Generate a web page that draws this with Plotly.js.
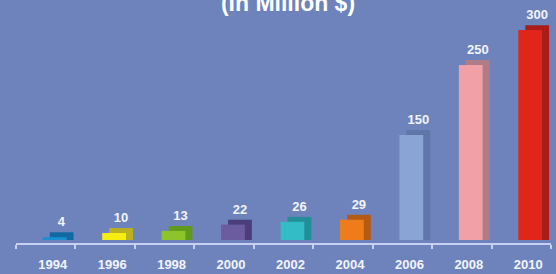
<!DOCTYPE html>
<html>
<head>
<meta charset="utf-8">
<script src="https://cdn.plot.ly/plotly-3.0.1.min.js"></script>
<style>
  html, body { margin: 0; padding: 0; background: #6e83bc; }
  #chart { width: 556px; height: 274px; }
</style>
</head>
<body>
<div id="chart"></div>
<script>
// ---- data ----
var years = ['1994', '1996', '1998', '2000', '2002', '2004', '2006', '2008', '2010'];
var values = [4, 10, 13, 22, 26, 29, 150, 250, 300];
var frontColors = ['#1a8fd2', '#f6ee12', '#8cc42a', '#6a5c9e', '#34bcc6', '#ee7c1a', '#8aa4d6', '#f2a0a8', '#e0251a'];
var sideColors  = ['#0f6aa2', '#b9b022', '#5f9a1c', '#4a3e7c', '#228e98', '#b45a12', '#5f77a8', '#b07c88', '#a81c1a'];
var titleText = '(In Million $)';

// ---- style constants ----
var depth = 7;            // extrusion depth, in y-units (style only)
var labelColor = '#f2f4fb';
var axisColor = '#c9cff0';

var shadowHeights = values.map(function (v) { return v + depth; });

var side = {
  type: 'bar',
  x: years,
  y: shadowHeights,
  width: 0.4,
  offset: 0.068,
  marker: { color: sideColors, line: { width: 0 } },
  text: values.map(String),
  textposition: 'outside',
  textfont: { family: 'Liberation Sans, Arial, sans-serif', size: 13, color: labelColor, weight: 'bold' },
  cliponaxis: false,
  hoverinfo: 'skip',
  showlegend: false
};

var front = {
  type: 'bar',
  x: years,
  y: values,
  width: 0.4,
  offset: -0.05,
  marker: { color: frontColors, line: { width: 0 } },
  hoverinfo: 'skip',
  showlegend: false
};

var layout = {
  width: 556,
  height: 274,
  margin: { l: 16, r: 5, t: 0, b: 31 },
  paper_bgcolor: '#6e83bc',
  plot_bgcolor: '#6e83bc',
  barmode: 'overlay',
  title: {
    text: titleText,
    font: { family: 'Liberation Sans, Arial, sans-serif', size: 23, color: '#ffffff', weight: 'bold' },
    x: 0.518,
    xref: 'container',
    xanchor: 'center',
    y: 0.99,
    yref: 'container',
    yanchor: 'middle'
  },
  xaxis: {
    type: 'category',
    categoryorder: 'array',
    categoryarray: years,
    showgrid: false,
    zeroline: false,
    showline: true,
    linecolor: axisColor,
    linewidth: 2,
    ticks: 'outside',
    tickson: 'boundaries',
    ticklen: 4,
    tickwidth: 2,
    tickcolor: axisColor,
    ticklabelshift: 7,
    ticklabelstandoff: 8,
    tickfont: { family: 'Liberation Sans, Arial, sans-serif', size: 13, color: labelColor, weight: 'bold' },
    fixedrange: true
  },
  yaxis: {
    range: [-4.3, 342.9],
    visible: false,
    showgrid: false,
    zeroline: false,
    fixedrange: true
  }
};

Plotly.newPlot('chart', [side, front], layout, { displayModeBar: false, staticPlot: true });
</script>
</body>
</html>
